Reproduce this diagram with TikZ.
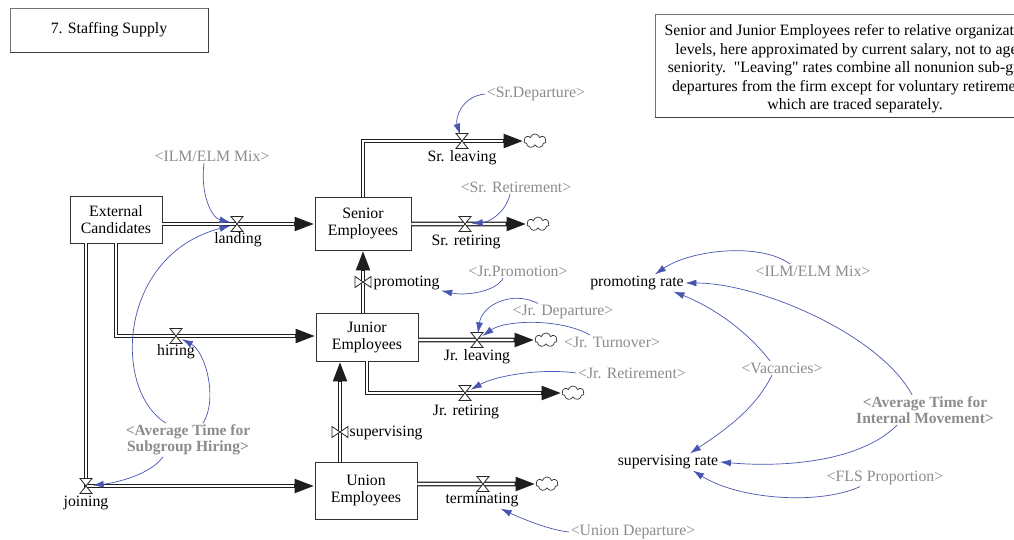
\documentclass[tikz,border=0pt]{standalone}
\usepackage{fontspec}
\setmainfont{Liberation Serif}[Ligatures=TeXOff]
\usetikzlibrary{arrows.meta,shapes.symbols,calc}
\definecolor{linkblue}{RGB}{72,86,176}
\definecolor{shadowgray}{RGB}{140,140,140}
\definecolor{pipeline}{RGB}{30,30,30}

\tikzset{
  base/.style={font=\fontsize{15.8}{17}\selectfont, inner sep=1.5pt},
  stock/.style={base, draw=black!80, line width=0.8pt, fill=white, align=center, inner sep=0pt},
  pipe/.style={draw=pipeline, line width=4.6pt, -{Triangle[length=20pt,width=13pt]},
    postaction={draw=white, line width=2.2pt, -, shorten >=21pt}},
  valve/.style={circle, minimum size=13pt, inner sep=0pt},
  cloudn/.style={cloud, cloud puffs=7, aspect=1.6, draw=black!80, line width=0.7pt, fill=white,
    minimum width=22pt, minimum height=14pt, inner sep=0pt},
  shadowvar/.style={base, text=shadowgray},
  shadowbold/.style={base, text=shadowgray, font=\fontsize{15.5}{16}\selectfont\bfseries, align=center},
  link/.style={draw=linkblue, line width=0.7pt, -{Latex[length=11pt,width=7pt]}},
  framebox/.style={draw=black!55, line width=0.7pt},
  pics/hvalve/.style={code={
    \draw[black!85, line width=0.8pt, fill=white] (-6,-7.5) -- (6,-7.5) -- (-6,7.5) -- (6,7.5) -- cycle;}},
  pics/vvalve/.style={code={
    \draw[black!85, line width=0.8pt, fill=white] (-8,-5.5) -- (-8,5.5) -- (8,-5.5) -- (8,5.5) -- cycle;}},
}

\begin{document}
\begin{tikzpicture}[x=1pt,y=-1pt]
\clip (0,0) rectangle (1014,540);
\fill[white] (0,0) rectangle (1014,540);

% title and note
\node[framebox, base, minimum width=198pt, minimum height=44pt] (title) at (109,30) {7. Staffing Supply};
\draw[black!75, line width=1.2pt] (title.south west) -- (title.south east) -- (title.north east);
\node[framebox, minimum width=400pt, minimum height=103pt] (notebg) at (855,65.5) {};
\draw[black!75, line width=1.2pt] (notebg.south west) -- (notebg.south east);
\node[base, align=center, font=\fontsize{15.8}{18.5}\selectfont] (note) at (855,69)
  {Senior and Junior Employees refer to relative organizational\\
   levels, here approximated by current salary, not to age or\\
   seniority.\ \ "Leaving" rates combine all nonunion sub-group\\
   departures from the firm except for voluntary retirements,\\
   which are traced separately.};

% stocks
\node[stock, minimum width=92pt, minimum height=47pt] (ext) at (116,219.5) {External\\Candidates};
\node[stock, minimum width=96pt, minimum height=53pt] (sen) at (363,223.5) {Senior\\Employees};
\node[stock, minimum width=102pt, minimum height=48pt] (jun) at (367,337) {Junior\\Employees};
\node[stock, minimum width=102pt, minimum height=57pt] (uni) at (366,490.5) {Union\\Employees};

% valves
\node[valve] (vland) at (237,224) {};
\node[valve] (vsrl) at (462,141) {};
\node[valve] (vsrr) at (465,224) {};
\node[valve] (vprom) at (363,282) {};
\node[valve] (vhire) at (176,336) {};
\node[valve] (vjoin) at (86,486) {};
\node[valve] (vsup) at (340,432) {};
\node[valve] (vjrl) at (477,340) {};
\node[valve] (vjrr) at (465,393) {};
\node[valve] (vterm) at (483,484) {};

% sinks
\node[cloudn] (csrl) at (535,141) {};
\node[cloudn] (csrr) at (538,224) {};
\node[cloudn] (cjrl) at (546,340) {};
\node[cloudn] (cjrr) at (573,393) {};
\node[cloudn] (cterm) at (547,484) {};

% material flows
\draw[pipe] (ext.east |- vland) -- (sen.west |- vland);
\draw[pipe] (sen.north) |- (csrl.west);
\draw[pipe] (sen.east |- vsrr) -- (csrr.west);
\draw[pipe] (vprom |- jun.north) -- (vprom |- sen.south);
\draw[pipe] (ext.south) |- (jun.west |- vhire);
\draw[pipe] ([xshift=-30pt]ext.south) |- (uni.west |- vjoin);
\draw[pipe] (vsup |- uni.north) -- (vsup |- jun.south);
\draw[pipe] (jun.east |- vjrl) -- (cjrl.west);
\draw[pipe] (jun.south) |- (cjrr.west);
\draw[pipe] (uni.east |- vterm) -- (cterm.west);

\foreach \v in {vland,vsrl,vsrr,vhire,vjoin,vjrl,vjrr,vterm} \pic at (\v) {hvalve};
\foreach \v in {vprom,vsup} \pic at (\v) {vvalve};

% flow names
\node[base] (lland) at (238,240) {landing};
\node[base] (lsrl) at (462,158) {Sr. leaving};
\node[base] (lsrr) at (466,242) {Sr. retiring};
\node[base, anchor=west] (lprom) at (372,283) {promoting};
\node[base] (lhire) at (176,352) {hiring};
\node[base] (ljoin) at (86,503) {joining};
\node[base, anchor=west] (lsup) at (348,433) {supervising};
\node[base] (ljrl) at (477,357) {Jr. leaving};
\node[base] (ljrr) at (466,412) {Jr. retiring};
\node[base] (lterm) at (482,500) {terminating};

% auxiliaries
\node[base] (prate) at (637,283) {promoting rate};
\node[base] (srate) at (668,462) {supervising rate};

% shadow variables
\node[shadowvar] (ilmA) at (212,156) {<ILM/ELM Mix>};
\node[shadowvar] (srDep) at (536,94) {<Sr.Departure>};
\node[shadowvar] (srRet) at (516,187) {<Sr. Retirement>};
\node[shadowvar] (jrProm) at (518,271) {<Jr.Promotion>};
\node[shadowvar] (jrDep) at (563,312) {<Jr. Departure>};
\node[shadowvar] (jrTurn) at (612,342) {<Jr. Turnover>};
\node[shadowvar] (jrRet) at (632,373) {<Jr. Retirement>};
\node[shadowvar] (unDep) at (633,532) {<Union Departure>};
\node[shadowbold] (avgH) at (188,440) {<Average Time for\\Subgroup Hiring>};
\node[shadowvar] (ilmB) at (813,271) {<ILM/ELM Mix>};
\node[shadowvar] (vac) at (782,368) {<Vacancies>};
\node[shadowbold] (avgI) at (925,410) {<Average Time for\\Internal Movement>};
\node[shadowvar] (fls) at (885,478) {<FLS Proportion>};

% information links
\draw[link] ([xshift=-8pt]ilmA.south) .. controls (200,195) and (212,218) .. (vland);
\draw[link] ([xshift=-22pt]avgH.north) .. controls (112,390) and (118,255) .. (vland);
\draw[link] ([xshift=15pt]avgH.north) .. controls (218,400) and (206,352) .. (vhire);
\draw[link] ([xshift=-25pt]avgH.south) .. controls (150,475) and (115,483) .. (vjoin);
\draw[link] (srDep.west) .. controls (462,96) and (455,118) .. (vsrl);
\draw[link] ([xshift=-6pt]srRet.south) .. controls (506,212) and (490,222) .. (vsrr);
\draw[link] ([xshift=-15pt]jrProm.south) .. controls (496,292) and (465,296) .. (lprom);
\draw[link] ([xshift=-25pt]jrDep.north) .. controls (512,290) and (482,305) .. (vjrl);
\draw[link] ([xshift=-22pt]jrTurn.north) .. controls (560,318) and (505,320) .. (vjrl);
\draw[link] (jrRet.west) .. controls (540,368) and (495,376) .. (vjrr);
\draw[link] (unDep.west) .. controls (550,530) and (525,520) .. (lterm);
\draw[link] ([xshift=-23pt]ilmB.north) .. controls (760,242) and (690,250) .. ([xshift=18pt]prate.north);
\draw[link] ([xshift=-13pt]avgI.north) .. controls (880,335) and (760,283) .. (prate.east);
\draw[link] ([xshift=-12pt]vac.north) .. controls (740,322) and (700,302) .. ([xshift=-12pt]prate.south east);
\draw[link] ([xshift=-10pt]vac.south) .. controls (755,410) and (722,432) .. ([xshift=22pt]srate.north);
\draw[link] ([xshift=-28pt]avgI.south) .. controls (862,460) and (790,468) .. (srate.east);
\draw[link] ([xshift=-25pt]fls.south) .. controls (820,505) and (740,500) .. ([xshift=25pt]srate.south);
\end{tikzpicture}
\end{document}
